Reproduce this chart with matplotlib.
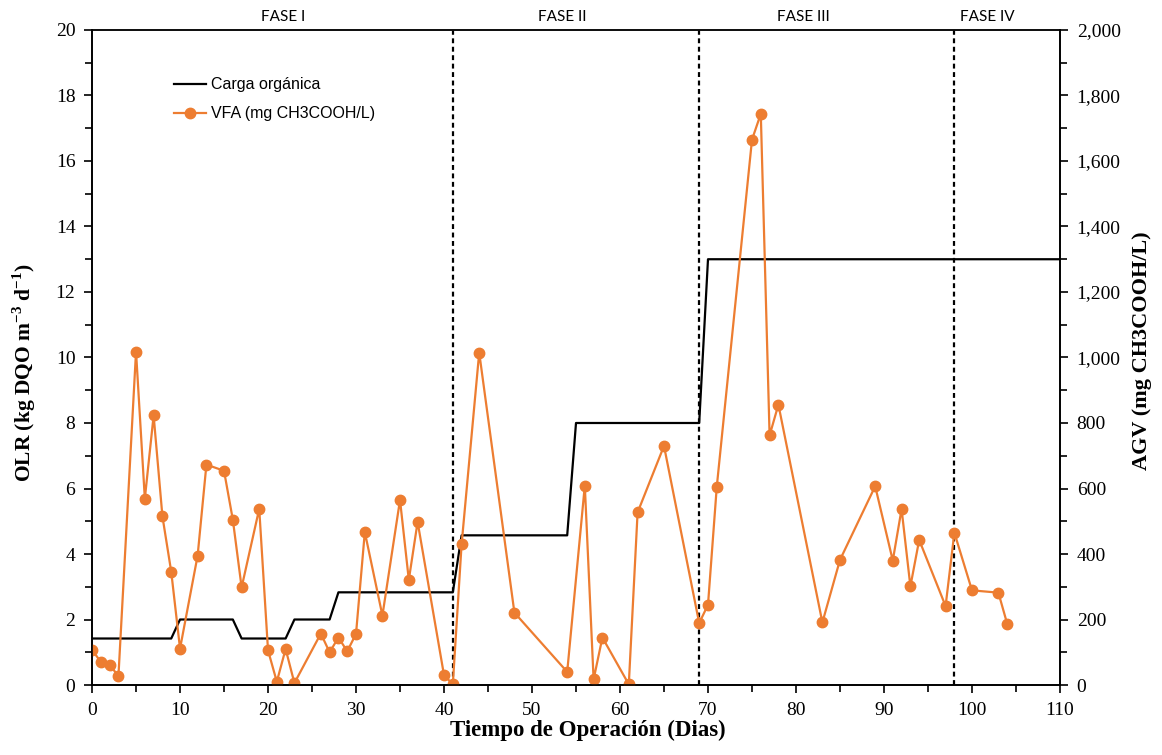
import matplotlib
matplotlib.use("Agg")
import matplotlib.pyplot as plt
from matplotlib.ticker import MultipleLocator, FuncFormatter

# --- Données -----------------------------------------------------------------
# Carga orgánica (OLR, kg DQO m-3 d-1) : paliers
olr_dias = [0, 9, 10, 16, 17, 22, 23, 27, 28, 41, 42, 54, 55, 69, 70, 110]
olr_val = [1.42, 1.42, 2.0, 2.0, 1.42, 1.42, 2.0, 2.0, 2.83, 2.83,
           4.57, 4.57, 8.0, 8.0, 13.0, 13.0]

# VFA / AGV (mg CH3COOH/L)
vfa_dias = [0, 1, 2, 3, 5, 6, 7, 8, 9, 10, 12, 13, 15, 16, 17, 19, 20, 21,
            22, 23, 26, 27, 28, 29, 30, 31, 33, 35, 36, 37, 40, 41, 42, 44,
            48, 54, 56, 57, 58, 61, 62, 65, 69, 70, 71, 75, 76, 77, 78, 83,
            85, 89, 91, 92, 93, 94, 97, 98, 100, 103, 104]
vfa_val = [108, 70, 62, 27, 1018, 569, 823, 515, 346, 111, 395, 673, 654,
           505, 298, 538, 106, 10, 110, 6, 157, 100, 145, 103, 156, 467,
           212, 565, 321, 498, 30, 2, 430, 1015, 221, 40, 609, 17, 145, 2,
           527, 730, 189, 245, 606, 1665, 1744, 762, 856, 191, 382, 607,
           380, 537, 301, 443, 241, 465, 289, 282, 187]

fases = ["FASE I", "FASE II", "FASE III", "FASE IV"]
fases_x = [21.7, 53.4, 80.8, 101.7]
limites_fase = [41, 69, 98]

NARANJA = "#ED7D31"
SERIF = "Liberation Serif"

plt.rcParams["mathtext.fontset"] = "custom"
plt.rcParams["mathtext.rm"] = SERIF
plt.rcParams["mathtext.bf"] = SERIF + ":bold"

fig = plt.figure(figsize=(11.62, 7.55), dpi=100)
ax = fig.add_axes([0.0792, 0.0927, 0.8330, 0.8676])
ax2 = ax.twinx()

l1, = ax.plot(olr_dias, olr_val, color="black", lw=1.6, label="Carga orgánica")
l2, = ax2.plot(vfa_dias, vfa_val, color=NARANJA, lw=1.6, marker="o",
               markersize=7.5, label="VFA (mg CH3COOH/L)")

for d in limites_fase:
    ax.axvline(d, color="black", lw=1.6, ls=(0, (2.2, 1.6)))

ax.set_xlim(0, 110)
ax.set_ylim(0, 20)
ax2.set_ylim(0, 2000)

ax.xaxis.set_major_locator(MultipleLocator(10))
ax.xaxis.set_minor_locator(MultipleLocator(5))
ax.yaxis.set_major_locator(MultipleLocator(2))
ax.yaxis.set_minor_locator(MultipleLocator(1))
ax2.yaxis.set_major_locator(MultipleLocator(200))
ax2.yaxis.set_minor_locator(MultipleLocator(100))
ax2.yaxis.set_major_formatter(FuncFormatter(lambda v, p: f"{v:,.0f}"))

for a in (ax, ax2):
    a.tick_params(which="both", direction="out", width=1.2, labelsize=14,
                  pad=6)
    a.tick_params(which="major", length=6)
    a.tick_params(which="minor", length=5)
    for lab in a.get_xticklabels() + a.get_yticklabels():
        lab.set_family(SERIF)
    for s in a.spines.values():
        s.set_linewidth(1.2)
ax.spines["top"].set_color("#555555")

ax.set_xlabel("Tiempo de Operación (Dias)", family=SERIF, fontsize=16.5,
              fontweight="bold", labelpad=1)
ax.xaxis.label.set_x(0.512)
ax.set_ylabel(r"OLR (kg DQO m$^{\mathbf{-3}}$ d$^{\mathbf{-1}}$)", family=SERIF,
              fontsize=15.5, fontweight="bold", labelpad=13)
ax.yaxis.label.set_y(0.477)
ax2.set_ylabel("AGV (mg CH3COOH/L)", family=SERIF, fontsize=16,
               fontweight="bold", labelpad=8)
ax2.yaxis.label.set_y(0.51)

for nombre, xf in zip(fases, fases_x):
    ax.text(xf, 1.02, nombre, transform=ax.get_xaxis_transform(),
            ha="center", va="center", family="Lato", fontsize=11)

ax2.legend(handles=[l1, l2], loc="upper left", bbox_to_anchor=(0.07, 0.95),
           frameon=False, prop={"family": "Liberation Sans", "size": 11.5},
           handlelength=2.0, handletextpad=0.3, labelspacing=0.9)

fig.savefig("out.png", dpi=100)
